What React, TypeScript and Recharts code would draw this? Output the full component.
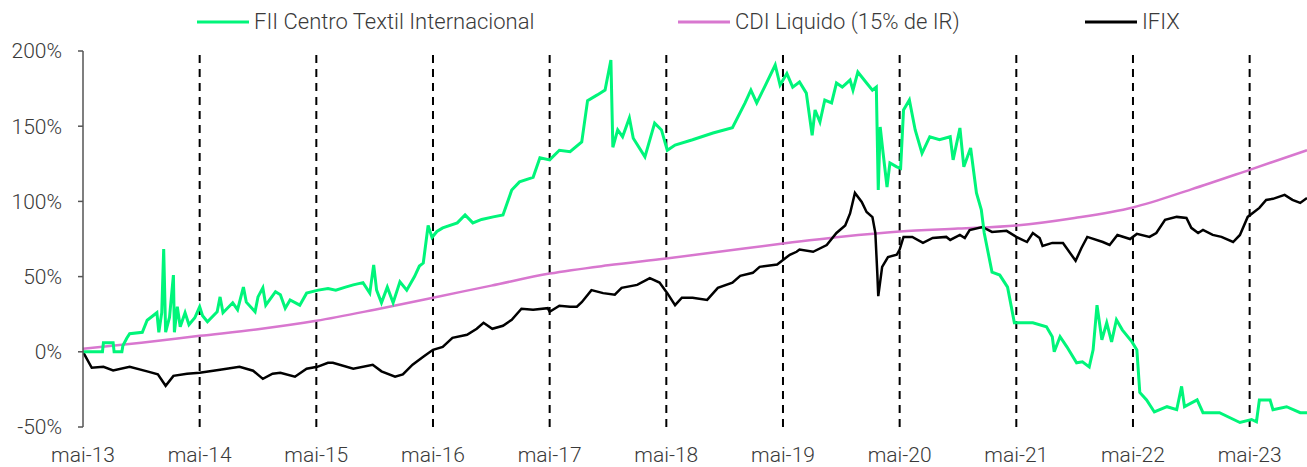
import { LineChart, Line, XAxis, YAxis, ReferenceLine } from 'recharts';

const FONT = 'Roboto, "Open Sans", sans-serif';
const TEXT = '#3a3a3a';

const GREEN = '#00f57a';
const PINK = '#d877cf';
const BLACK = '#000000';

// x = months since mai-13
const monthTicks = [0, 12, 24, 36, 48, 60, 72, 84, 96, 108, 120];
const tickLabels = ['mai-13', 'mai-14', 'mai-15', 'mai-16', 'mai-17', 'mai-18', 'mai-19', 'mai-20', 'mai-21', 'mai-22', 'mai-23'];
const dashedMonths = [12, 24, 36, 48, 60, 72, 84, 96, 108, 120];
const yTicks = [-50, 0, 50, 100, 150, 200];

const fiiPoints: [number, number][] = [
  [0, 0], [2.0, 0], [2.1, 6], [3.1, 6], [3.2, 0], [4.0, 0], [4.1, 4], [4.5, 9], [4.8, 12], [6.1, 13],
  [6.6, 21], [7.6, 26], [7.8, 13], [8.1, 26], [8.3, 68.4], [8.5, 13], [8.9, 23], [9.3, 51], [9.4, 13], [9.7, 30],
  [10.0, 16.6], [10.5, 26], [10.9, 18], [11.5, 22.6], [12.0, 30], [12.3, 24], [12.8, 20], [13.8, 26.6], [14.1, 36.5], [14.4, 26],
  [15.4, 32.6], [15.9, 28], [16.5, 43], [16.8, 33], [17.7, 26.6], [18.0, 36.5], [18.5, 42.5], [18.8, 31], [19.8, 40], [20.3, 38],
  [20.8, 29], [21.3, 34.5], [22.3, 31], [23.0, 39], [24.2, 41], [25.2, 42], [26.0, 41], [27.0, 43], [27.8, 44.5], [28.8, 46],
  [29.5, 39], [29.9, 57.8], [30.2, 41], [30.7, 32.6], [31.3, 43], [31.9, 32.6], [32.6, 46.5], [33.3, 41], [34.1, 50], [34.6, 57],
  [35.0, 59], [35.5, 84], [35.9, 76], [36.4, 80], [37.0, 82.4], [38.5, 85.7], [39.3, 91], [40.1, 85.7], [41.0, 88], [42.2, 89.7],
  [43.2, 91], [44.1, 107.6], [44.9, 113], [46.3, 116], [47.0, 129], [48.0, 127.6], [49.0, 134], [50.1, 133], [51.3, 139.5], [51.9, 167],
  [52.9, 170.8], [53.7, 174], [54.3, 194], [54.5, 136], [55.0, 147.5], [55.5, 143], [56.2, 155.5], [56.6, 142], [57.8, 129.6], [58.8, 152],
  [59.5, 147.5], [60.1, 134], [60.9, 137.5], [62.7, 141], [64.8, 145.5], [66.8, 149], [68.1, 165.5], [68.7, 174], [69.3, 165.5], [70.1, 176],
  [71.2, 190.7], [71.7, 177.4], [72.4, 185], [73.0, 176], [73.7, 179.4], [74.4, 172], [75.0, 144], [75.3, 160.8], [75.8, 152.8], [76.3, 167.4],
  [77.0, 165.5], [77.5, 178.7], [78.1, 176], [78.9, 180.7], [79.2, 174], [79.7, 186], [80.6, 178.7], [81.2, 174], [81.6, 176], [81.8, 107.6],
  [82.0, 149.5], [82.3, 132], [82.7, 109.6], [83.0, 125.6], [83.7, 123], [84.1, 122], [84.4, 160.8], [85.0, 167.4], [85.6, 147.5], [86.3, 132],
  [87.1, 143], [88.1, 141], [89.2, 143], [89.5, 127.6], [90.2, 148.8], [90.6, 123], [91.3, 135.5], [91.9, 105.6], [92.4, 94.4], [92.7, 79],
  [93.5, 53], [94.3, 51], [95.1, 43], [95.8, 19.3], [97.7, 19.3], [99.1, 16.6], [99.7, 10], [99.9, 0], [100.5, 10], [101.2, 3.3],
  [102.2, -7.3], [102.8, -6.6], [103.5, -10], [103.9, 1.3], [104.3, 31], [104.8, 8], [105.3, 19.3], [105.8, 6.6], [106.3, 21.3], [106.9, 14.6],
  [107.9, 6.6], [108.4, 1.3], [108.7, -27], [109.4, -32], [110.2, -40], [111.5, -36.5], [112.5, -38.5], [113.0, -23], [113.3, -36.5], [114.6, -32],
  [115.2, -40.5], [116.9, -40.5], [119.0, -47], [120.2, -45], [120.7, -46.5], [121.0, -32], [122.1, -32], [122.4, -38.5], [123.8, -36.5], [125.2, -40.5],
  [125.9, -40.5],
];

const cdiPoints: [number, number][] = [
  [0, 2], [6, 6], [12, 10.6], [18, 15], [24, 20.6], [30, 28], [36, 36], [42, 44], [48, 52], [54, 57.5], [60, 62],
  [66, 67], [72, 72], [78, 76.5], [84, 80], [90, 82], [96, 84], [102, 89], [108, 96], [114, 108], [120, 121], [125.9, 134],
];

const ifixPoints: [number, number][] = [
  [0, 0], [0.9, -10.6], [2.1, -10], [3.1, -12.4], [4.8, -10], [6.6, -13], [7.7, -15], [8.5, -22.6], [9.3, -16], [10.7, -14.6],
  [12.0, -14], [14.1, -12], [16.1, -10], [17.5, -12.6], [18.5, -18], [19.5, -14.6], [20.3, -14], [21.8, -16.6], [23.0, -11.3], [24.1, -10],
  [25.2, -7.3], [25.7, -7.3], [27.8, -11.3], [29.8, -8.6], [30.7, -13], [32.1, -16.6], [32.9, -15], [33.9, -8.6], [35.0, -3.3], [36.0, 1.3],
  [37.0, 3.3], [38.0, 9.3], [39.5, 11.3], [40.5, 15.3], [41.2, 19.3], [42.1, 15.3], [43.2, 17.3], [44.1, 21.3], [45.1, 28.6], [46.3, 28],
  [47.8, 29], [48.0, 26.6], [49.0, 30.6], [50.1, 30], [50.8, 30], [51.3, 33], [52.3, 41], [53.5, 39], [54.7, 38], [55.4, 42.5],
  [57.0, 44.5], [58.3, 49], [59.3, 46], [60.1, 39], [60.9, 31], [61.6, 36], [62.7, 36], [64.2, 34.5], [65.3, 42.5], [66.8, 46],
  [67.6, 50.5], [68.9, 52.5], [69.6, 56.5], [71.4, 58], [72.0, 61], [72.7, 64.5], [73.4, 66.5], [73.7, 68], [75.1, 66.5], [76.5, 71],
  [77.5, 79], [78.4, 84], [78.9, 92], [79.4, 105.6], [80.1, 99.6], [80.6, 93], [81.2, 89.6], [81.5, 79], [81.7, 52.5], [81.8, 37],
  [82.2, 56.5], [82.8, 63], [83.7, 64.5], [84.0, 68], [84.4, 76.4], [85.3, 76.4], [86.4, 72.4], [87.4, 75.7], [88.8, 76.4], [89.2, 74.4],
  [90.2, 77.7], [90.7, 75.7], [91.2, 81], [92.5, 83], [93.5, 79.7], [95.0, 80.4], [96.0, 76.4], [97.1, 73], [97.7, 79], [98.4, 75.7],
  [98.7, 70.4], [99.7, 72.4], [100.8, 72.4], [102.1, 60.5], [102.7, 69], [103.3, 76.4], [104.9, 73], [105.6, 71], [106.4, 77.7], [107.7, 75],
  [108.4, 78.4], [109.7, 76.4], [110.4, 79], [111.3, 87.7], [112.5, 89.7], [113.5, 89], [114.0, 82.4], [114.7, 79], [115.2, 81], [116.2, 77.7],
  [117.1, 76.4], [118.3, 73], [119.0, 77.7], [119.8, 89.7], [121.0, 95.7], [121.7, 101], [122.4, 101.7], [123.6, 104.3], [124.4, 101], [125.2, 99],
  [125.9, 102.3],
];

const toRows = (pts: [number, number][]) => pts.map(([m, v]) => ({ m, v }));
const fii = toRows(fiiPoints);
const cdi = toRows(cdiPoints);
const ifix = toRows(ifixPoints);

const legendItems = [
  { label: 'FII Centro Textil Internacional', color: GREEN, x: 197 },
  { label: 'CDI Liquido (15% de IR)', color: PINK, x: 678 },
  { label: 'IFIX', color: BLACK, x: 1085 },
];

function ChartLegend() {
  return (
    <svg width={1307} height={45} style={{ position: 'absolute', left: 0, top: 0 }}>
      {legendItems.map((it) => (
        <g key={it.label}>
          <line x1={it.x} x2={it.x + 52} y1={22} y2={22} stroke={it.color} strokeWidth={3} />
          <text x={it.x + 57} y={29} fontFamily={FONT} fontWeight={300} fontSize={22} fill={TEXT}>
            {it.label}
          </text>
        </g>
      ))}
    </svg>
  );
}

export default function App() {
  return (
    <div style={{ position: 'absolute', left: 0, top: 0, width: 1307, height: 467, background: '#fff' }}>
      <LineChart width={1307} height={467} margin={{ top: 51, right: 0, bottom: 0, left: 0 }}>
        <XAxis
          type="number"
          dataKey="m"
          domain={[0, 125.9]}
          ticks={monthTicks}
          tickFormatter={(m: number) => tickLabels[monthTicks.indexOf(m)]}
          axisLine={false}
          tickLine={false}
          tickSize={0}
          tickMargin={20}
          height={40}
          tick={{ fontFamily: FONT, fontWeight: 300, fontSize: 21, fill: TEXT }}
          allowDataOverflow
        />
        <YAxis
          type="number"
          domain={[-50, 200]}
          ticks={yTicks}
          tickFormatter={(v: number) => `${v}%`}
          width={83}
          axisLine={{ stroke: '#555', strokeWidth: 1.5 }}
          tickLine={{ stroke: '#555', strokeWidth: 1.5 }}
          tickSize={5}
          tickMargin={16}
          tick={{ fontFamily: FONT, fontWeight: 300, fontSize: 21, fill: TEXT }}
          allowDataOverflow
        />
        {dashedMonths.map((m) => (
          <ReferenceLine key={m} x={m} stroke="#000" strokeWidth={2} strokeDasharray="8 6" />
        ))}
        <Line data={cdi} dataKey="v" type="monotone" stroke={PINK} strokeWidth={2.5} dot={false} isAnimationActive={false} />
        <Line data={ifix} dataKey="v" type="linear" stroke={BLACK} strokeWidth={2.5} dot={false} isAnimationActive={false} />
        <Line data={fii} dataKey="v" type="linear" stroke={GREEN} strokeWidth={3} dot={false} isAnimationActive={false} />
      </LineChart>
      <ChartLegend />
    </div>
  );
}
